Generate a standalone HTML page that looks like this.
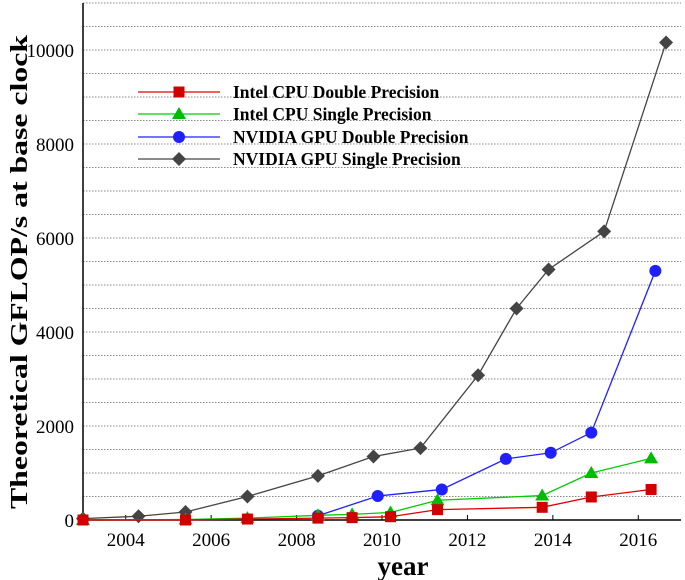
<!DOCTYPE html>
<html><head><meta charset="utf-8"><style>
body{margin:0;background:#fff}
svg{display:block;font-family:"Liberation Serif",serif}
</style></head><body>
<svg id="chart" width="685" height="580">
<g id="grid"></g>
<g id="axes"></g>
<g id="series"></g>
<g id="legend"></g>
<text x="27" y="272" transform="rotate(-90 27 272)" text-anchor="middle" font-size="24" font-weight="bold" textLength="474" lengthAdjust="spacingAndGlyphs">Theoretical GFLOP/s at base clock</text>
<text x="403" y="575" text-anchor="middle" font-size="27" font-weight="bold">year</text>
</svg>
<script>
const xTicks=[2004,2006,2008,2010,2012,2014,2016];
const yTicks=[0,2000,4000,6000,8000,10000];
const seriesNames=["Intel CPU Double Precision","Intel CPU Single Precision","NVIDIA GPU Double Precision","NVIDIA GPU Single Precision"];
const cpuDpYears=[2003,2005.4,2006.85,2008.5,2009.3,2010.2,2011.3,2013.75,2014.9,2016.3];
const cpuDpVals=[0,0,20,40,50,70,220,270,490,650];
const cpuSpYears=[2003,2005.4,2006.85,2008.5,2009.3,2010.2,2011.3,2013.75,2014.9,2016.3];
const cpuSpVals=[0,10,40,100,120,160,420,520,1000,1310];
const gpuDpYears=[2008.5,2009.9,2011.4,2012.9,2013.95,2014.9,2016.4];
const gpuDpVals=[90,510,650,1300,1430,1860,5300];
const gpuSpYears=[2003,2004.3,2005.4,2006.85,2008.5,2009.8,2010.9,2012.25,2013.15,2013.9,2015.2,2016.65];
const gpuSpVals=[30,80,170,500,940,1350,1530,3080,4500,5330,6140,10160];
const X0=83,X1=681,Y0=520,Y1=3,XMIN=2003,XMAX=2017,YMAX=11000;
const xs=v=>X0+(v-XMIN)/(XMAX-XMIN)*(X1-X0);
const ys=v=>Y0-v/YMAX*(Y0-Y1);
const NS="http://www.w3.org/2000/svg";
function mk(tag,attrs,parent){const e=document.createElementNS(NS,tag);for(const k in attrs)e.setAttribute(k,attrs[k]);parent.appendChild(e);return e;}
const grid=document.getElementById('grid'),axes=document.getElementById('axes'),ser=document.getElementById('series'),leg=document.getElementById('legend');
for(let v=500;v<=YMAX;v+=500){const l=mk('line',{x1:X0,x2:X1,y1:ys(v),y2:ys(v),stroke:'#888','stroke-dasharray':'1.5,1.5','stroke-width':1},grid);

}
const ax=mk('path',{d:`M${X0},${Y1}V${Y0}H${X1}`,stroke:'#000',fill:'none','stroke-width':1.5},axes);


xTicks.forEach(t=>{mk('line',{x1:xs(t),x2:xs(t),y1:Y0,y2:Y0-5,stroke:'#000'},axes);
const tx=mk('text',{x:xs(t),y:Y0+26,'text-anchor':'middle','font-size':19},axes);tx.textContent=t;

});
yTicks.forEach(t=>{const tx=mk('text',{x:X0-9,y:ys(t)+7,'text-anchor':'end','font-size':19},axes);tx.textContent=t;

});
const styles=[{c:'#e00000',m:'sq',mc:'#d00000'},{c:'#00cc00',m:'tri',mc:'#00bb00'},{c:'#2020ff',m:'circ',mc:'#2020ff'},{c:'#444',m:'dia',mc:'#444'}];
function marker(type,x,y,col,p){
if(type==='sq')return mk('rect',{x:x-5.5,y:y-5.5,width:11,height:11,fill:col},p);
if(type==='tri')return mk('polygon',{points:`${x},${y-7} ${x-7},${y+5} ${x+7},${y+5}`,fill:col},p);
if(type==='circ')return mk('circle',{cx:x,cy:y,r:6,fill:col},p);
return mk('polygon',{points:`${x},${y-7} ${x+7},${y} ${x},${y+7} ${x-7},${y}`,fill:col},p);}
const data=[[cpuDpYears,cpuDpVals],[cpuSpYears,cpuSpVals],[gpuDpYears,gpuDpVals],[gpuSpYears,gpuSpVals]];
const keys=['intel-cpu-dp','intel-cpu-sp','nvidia-gpu-dp','nvidia-gpu-sp'];
[3,2,1,0].forEach(i=>{const [yr,vl]=data[i],s=styles[i];
const g=mk('g',{},ser);


const ln=mk('polyline',{points:yr.map((y,j)=>xs(y)+','+ys(vl[j])).join(' '),fill:'none',stroke:s.c,'stroke-width':1.3},g);


yr.forEach((y,j)=>{const m=marker(s.m,xs(y),ys(vl[j]),s.mc,g);

});});
const legY=[92,114,137,159];
seriesNames.forEach((n,i)=>{const y=legY[i],s=styles[i];
const g=mk('g',{},leg);


mk('line',{x1:138,x2:220,y1:y,y2:y,stroke:s.c,'stroke-width':1.3},g);
marker(s.m,179,y,s.mc,g);
const t=mk('text',{x:233,y:y+6,'font-size':17.5,'font-weight':'bold'},g);t.textContent=n;});
</script>
</body></html>
